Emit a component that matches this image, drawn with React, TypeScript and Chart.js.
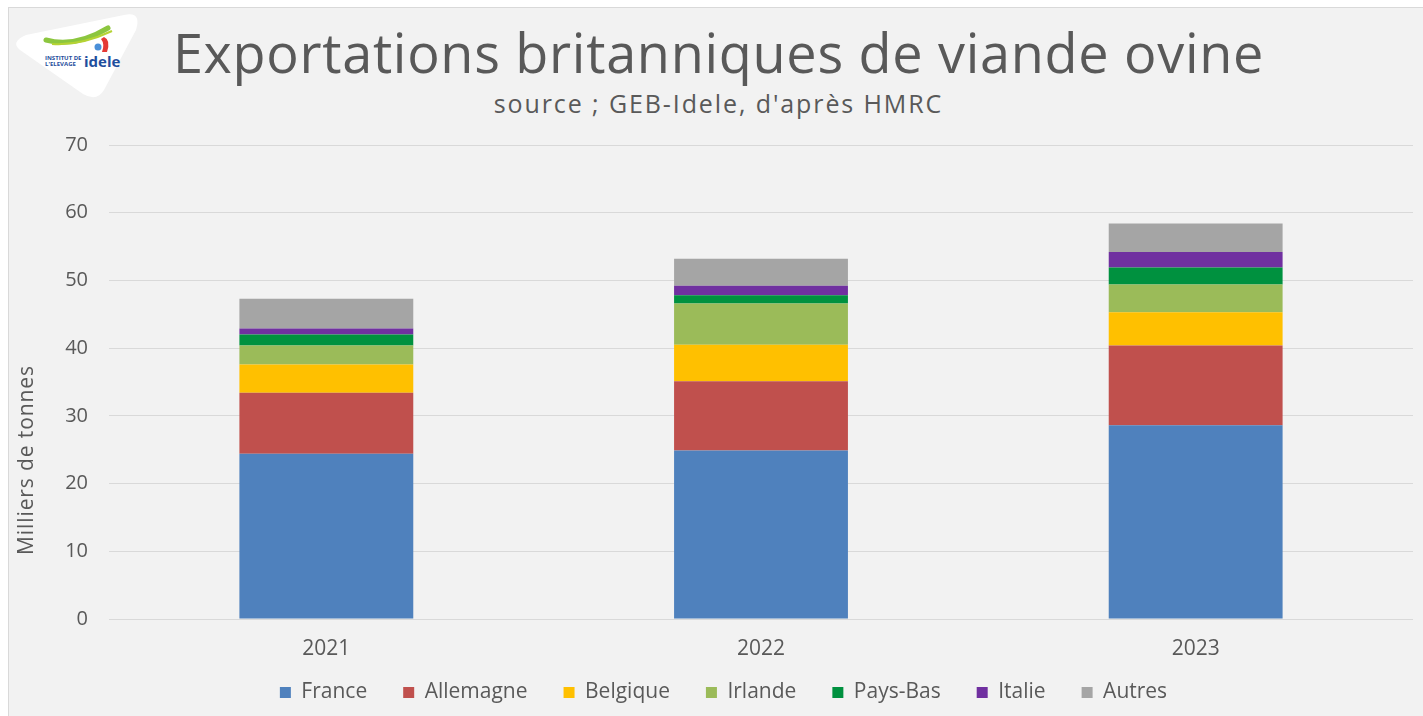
import React, { useEffect, useRef } from "react";
import { Chart, registerables } from "chart.js";

Chart.register(...registerables);

const years = ["2021", "2022", "2023"];
const france = [24.4, 24.9, 28.6];
const allemagne = [9.0, 10.2, 11.8];
const belgique = [4.2, 5.4, 4.9];
const irlande = [2.8, 6.1, 4.1];
const paysBas = [1.6, 1.2, 2.5];
const italie = [0.9, 1.4, 2.3];
const autres = [4.4, 4.0, 4.2];

const seriesNames = ["France", "Allemagne", "Belgique", "Irlande", "Pays-Bas", "Italie", "Autres"];
const seriesValues = [france, allemagne, belgique, irlande, paysBas, italie, autres];
const seriesColors = ["#4f81bd", "#c0504d", "#ffc000", "#9bbb59", "#00913f", "#7030a0", "#a5a5a5"];

const yMin = 0;
const yMax = 70;
const yStep = 10;

const titleText = "Exportations britanniques de viande ovine";
const subtitleText = "source ; GEB-Idele, d'après HMRC";
const yAxisTitle = "Milliers de tonnes";

const FONT = "'Open Sans', 'DejaVu Sans', sans-serif";
const TEXT_COLOR = "#595959";

const yTitlePlugin = {
  id: "yTitlePlugin",
  afterDraw(chart: any) {
    const ctx = chart.ctx;
    ctx.save();
    ctx.translate(27, 460);
    ctx.rotate(-Math.PI / 2);
    ctx.font = "21px " + FONT;
    (ctx as any).letterSpacing = "0.9px";
    ctx.fillStyle = TEXT_COLOR;
    ctx.textAlign = "center";
    ctx.textBaseline = "middle";
    ctx.fillText(yAxisTitle, 0, 0);
    ctx.restore();
  },
};

export default function App() {
  const canvasRef = useRef<HTMLCanvasElement | null>(null);

  useEffect(() => {
    document.body.style.margin = "0";
    const canvas = canvasRef.current;
    if (!canvas) return;
    const chart = new Chart(canvas, {
      type: "bar",
      data: {
        labels: years,
        datasets: seriesNames.map((name, i) => ({
          label: name,
          data: seriesValues[i],
          backgroundColor: seriesColors[i],
          borderWidth: 0,
          barPercentage: 0.4,
          categoryPercentage: 1,
        })),
      },
      options: {
        animation: false,
        responsive: false,
        maintainAspectRatio: false,
        layout: { padding: { left: 34, right: 10, top: 145, bottom: 3 } },
        plugins: {
          title: { display: false },
          tooltip: { enabled: false },
          legend: {
            position: "bottom",
            labels: {
              boxWidth: 11,
              boxHeight: 11,
              padding: 36,
              color: TEXT_COLOR,
              font: { family: FONT, size: 21 },
            },
          },
        },
        scales: {
          x: {
            stacked: true,
            grid: { display: false, drawTicks: false },
            border: { display: false },
            ticks: { color: TEXT_COLOR, font: { family: FONT, size: 21 }, padding: 17, autoSkip: false, maxRotation: 0 },
            afterFit: (s: any) => {
              s.height = 27;
              s._computeLabelArea = () => undefined;
            },
          },
          y: {
            stacked: true,
            min: yMin,
            max: yMax,
            ticks: { stepSize: yStep, color: TEXT_COLOR, font: { family: FONT, size: 20 }, padding: 21 },
            grid: { color: "#d9d9d9", lineWidth: 1, drawTicks: false },
            border: { display: false },
            afterFit: (s: any) => {
              s.width = 75;
            },
          },
        },
      },
      plugins: [yTitlePlugin],
    });
    return () => chart.destroy();
  }, []);

  return (
    <div style={{ position: "fixed", left: 0, top: 0, width: 1423, height: 716, background: "#ffffff", overflow: "hidden" }}>
      <div
        style={{
          position: "absolute",
          left: 8,
          top: 7,
          width: 1430,
          height: 720,
          background: "#f2f2f2",
          borderLeft: "1px solid #d9d9d9",
          borderTop: "1px solid #d9d9d9",
        }}
      />
      <svg style={{ position: "absolute", left: 0, top: 0 }} width={150} height={110}>
        <path
          d="M 20 50 Q 10 42 26 35 L 124 15 Q 142 11 136 30 L 104 90 Q 97 102 83 94 Z"
          fill="#ffffff"
        />
        <path d="M 46 40 Q 75 48 108 28" stroke="#8cc63f" strokeWidth={5} fill="none" strokeLinecap="round" />
        <path d="M 52 44 Q 80 46 112 31" stroke="#b5d334" strokeWidth={2} fill="none" />
        <path d="M 104 37 Q 111 40 107 52 L 102 52 Q 105 44 101 39 Z" fill="#e53935" />
        <circle cx={98} cy={47} r={3.5} fill="#4a90d9" />
        <text x={45} y={60} fontSize={6} fontWeight={700} fill="#1f4e9d" fontFamily={FONT}>INSTITUT DE</text>
        <text x={45} y={66} fontSize={6} fontWeight={700} fill="#1f4e9d" fontFamily={FONT}>L'ELEVAGE</text>
        <text x={84} y={67} fontSize={15} fontWeight={700} fill="#1f4e9d" fontFamily={FONT}>idele</text>
      </svg>
      <div
        style={{
          position: "absolute",
          left: 0,
          top: 25,
          width: 1437,
          textAlign: "center",
          fontFamily: FONT,
          fontSize: 54,
          letterSpacing: 0.7,
          lineHeight: 1,
          color: TEXT_COLOR,
          whiteSpace: "nowrap",
        }}
      >
        {titleText}
      </div>
      <div
        style={{
          position: "absolute",
          left: 0,
          top: 91,
          width: 1437,
          textAlign: "center",
          fontFamily: FONT,
          fontSize: 25,
          letterSpacing: 1.9,
          lineHeight: 1,
          color: TEXT_COLOR,
          whiteSpace: "nowrap",
        }}
      >
        {subtitleText}
      </div>
      <canvas ref={canvasRef} width={1423} height={716} style={{ position: "absolute", left: 0, top: 0 }} />
    </div>
  );
}
